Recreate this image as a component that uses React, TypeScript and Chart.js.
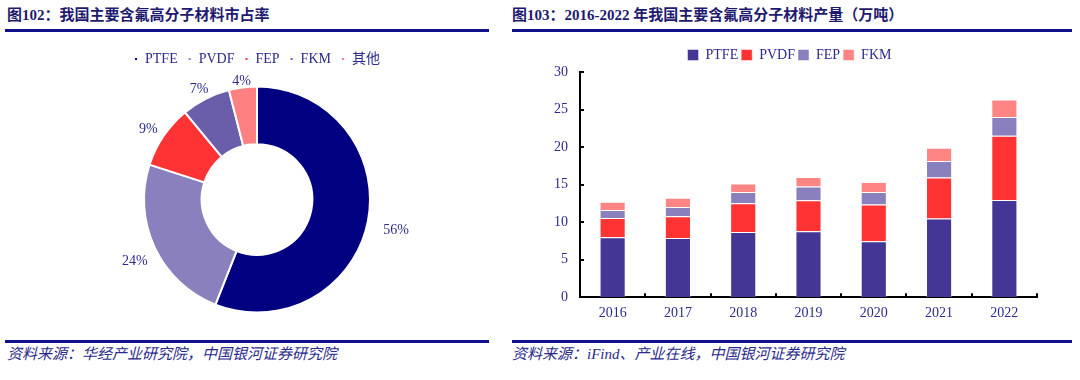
import React, { useEffect, useRef } from "react";
import { Chart, registerables } from "chart.js";
Chart.register(...registerables);

// ---- Data ----
const shareLabels = ["PTFE", "PVDF", "FEP", "FKM", "其他"];
const shareValues = [56, 24, 9, 7, 4];

const years = ["2016", "2017", "2018", "2019", "2020", "2021", "2022"];
const ptfeOutput = [8.0, 7.9, 8.7, 8.8, 7.45, 10.5, 12.95];
const pvdfOutput = [2.55, 2.9, 3.8, 4.1, 4.9, 5.45, 8.55];
const fepOutput = [1.05, 1.2, 1.5, 1.85, 1.65, 2.2, 2.5];
const fkmOutput = [1.1, 1.25, 1.15, 1.25, 1.35, 1.75, 2.35];
const outputSeriesNames = ["PTFE", "PVDF", "FEP", "FKM"];

const yMin = 0;
const yMax = 30;
const yStep = 5;

// ---- Styles ----
const TEXT = "#2B2B8C";
const TITLE = "#1E1A6E";
const LINE = "#10108A";
const SERIF = '"Liberation Serif", "Noto Sans CJK SC", serif';
const shareColors = ["#000080", "#8A80BE", "#FF3333", "#6A5DAA", "#FF8080"];
const barColors = ["#433695", "#FF3333", "#8A80BE", "#FF8585"];

const outsideLabels = {
  id: "outsideLabels",
  afterDatasetsDraw(chart: any) {
    const meta = chart.getDatasetMeta(0);
    const ctx = chart.ctx;
    ctx.save();
    ctx.font = `14px ${SERIF}`;
    ctx.fillStyle = TEXT;
    ctx.textAlign = "center";
    ctx.textBaseline = "middle";
    meta.data.forEach((arc: any, i: number) => {
      const p = arc.getProps(["x", "y", "startAngle", "endAngle", "outerRadius"], true);
      const mid = (p.startAngle + p.endAngle) / 2;
      const text = shareValues[i] + "%";
      const w = ctx.measureText(text).width;
      const h = 14;
      const cx = Math.cos(mid);
      const cy = Math.sin(mid);
      const ext = Math.abs(cx) * w / 2 + Math.abs(cy) * h / 2;
      const r = p.outerRadius + 1 + ext + 14 * Math.abs(cx) * (cx > 0 ? 1 : 0.5);
      ctx.fillText(text, p.x + cx * r, p.y + cy * r + 4);
    });
    ctx.restore();
  },
};

const inwardTicks = {
  id: "inwardTicks",
  afterDraw(chart: any) {
    const ctx = chart.ctx;
    const y = chart.scales.y;
    const x = chart.scales.x;
    ctx.save();
    ctx.strokeStyle = "#000";
    ctx.lineWidth = 2;
    ctx.beginPath();
    y.ticks.forEach((t: any) => {
      if (t.value === yMin) return;
      const py = Math.round(y.getPixelForValue(t.value));
      ctx.moveTo(x.left, py);
      ctx.lineTo(x.left + 4, py);
    });
    const n = years.length;
    for (let i = 1; i <= n; i++) {
      const px = Math.round(x.left + ((x.right - x.left) * i) / n);
      ctx.moveTo(px, y.bottom);
      ctx.lineTo(px, y.bottom - 4);
    }
    ctx.stroke();
    ctx.restore();
  },
};

function ShareChart() {
  const ref = useRef<HTMLCanvasElement>(null);
  useEffect(() => {
    const chart = new Chart(ref.current!, {
      type: "doughnut",
      data: {
        labels: shareLabels,
        datasets: [
          {
            data: shareValues,
            backgroundColor: shareColors,
            borderColor: "#ffffff",
            borderWidth: 2,
            radius: 113,
            cutout: 60,
          } as any,
        ],
      },
      options: {
        animation: false,
        responsive: false,
        maintainAspectRatio: false,
        layout: { padding: { left: 4, right: 0, top: 2, bottom: 7 } },
        plugins: {
          legend: {
            position: "top",
            labels: {
              boxWidth: 4,
              boxHeight: 4,
              padding: 10,
              color: TEXT,
              font: { family: SERIF, size: 14 },
            },
          },
          tooltip: { enabled: false },
        },
      },
      plugins: [outsideLabels],
    });
    return () => chart.destroy();
  }, []);
  return (
    <canvas
      ref={ref}
      width={510}
      height={290}
      style={{ position: "absolute", left: 0, top: 40, width: 510, height: 290 }}
    />
  );
}

function OutputChart() {
  const ref = useRef<HTMLCanvasElement>(null);
  useEffect(() => {
    const series = [ptfeOutput, pvdfOutput, fepOutput, fkmOutput];
    const chart = new Chart(ref.current!, {
      type: "bar",
      data: {
        labels: years,
        datasets: series.map((d, i) => ({
          label: outputSeriesNames[i],
          data: d,
          backgroundColor: barColors[i],
          borderColor: "rgba(255,255,255,0.45)",
          borderWidth: 1,
          barPercentage: 0.4,
          categoryPercentage: 1,
        })),
      },
      options: {
        animation: false,
        responsive: false,
        maintainAspectRatio: false,
        layout: { padding: { left: 22, right: 43, top: 5, bottom: 0 } },
        scales: {
          x: {
            stacked: true,
            grid: { display: false, drawTicks: false },
            border: { display: true, color: "#000", width: 2 },
            ticks: { color: TEXT, font: { family: SERIF, size: 14 }, padding: 8 },
          },
          y: {
            stacked: true,
            min: yMin,
            max: yMax,
            grid: { display: false, drawTicks: false },
            border: { display: true, color: "#000", width: 2 },
            ticks: {
              stepSize: yStep,
              color: TEXT,
              font: { family: SERIF, size: 14 },
              padding: 12,
            },
          },
        },
        plugins: {
          legend: {
            position: "top",
            labels: {
              boxWidth: 11,
              boxHeight: 11,
              padding: 3,
              color: TEXT,
              font: { family: SERIF, size: 14 },
            },
          },
          tooltip: { enabled: false },
        },
      },
      plugins: [inwardTicks],
    });
    return () => chart.destroy();
  }, []);
  return (
    <canvas
      ref={ref}
      width={560}
      height={290}
      style={{ position: "absolute", left: 520, top: 40, width: 560, height: 290 }}
    />
  );
}

const titleStyle: React.CSSProperties = {
  position: "absolute",
  top: 6,
  fontFamily: SERIF,
  fontWeight: "bold",
  fontSize: 15,
  lineHeight: "18px",
  color: TITLE,
  whiteSpace: "nowrap",
};
const footStyle: React.CSSProperties = {
  position: "absolute",
  top: 345,
  fontFamily: SERIF,
  fontStyle: "italic",
  fontSize: 15,
  lineHeight: "18px",
  color: TEXT,
  whiteSpace: "nowrap",
};
const bar = (left: number, width: number, top: number): React.CSSProperties => ({
  position: "absolute",
  left,
  width,
  top,
  height: 3,
  background: LINE,
});

export default function App() {
  return (
    <div
      style={{
        position: "absolute",
        left: 0,
        top: 0,
        width: 1080,
        height: 380,
        background: "#fff",
        overflow: "hidden",
      }}
    >
      <div style={{ ...titleStyle, left: 7 }}>图102：我国主要含氟高分子材料市占率</div>
      <div style={{ ...titleStyle, left: 512 }}>
        图103：2016-2022 年我国主要含氟高分子材料产量（万吨）
      </div>
      <div style={bar(5, 484, 29)} />
      <div style={bar(512, 560, 29)} />
      <ShareChart />
      <OutputChart />
      <div style={bar(5, 484, 340)} />
      <div style={bar(512, 560, 340)} />
      <div style={{ ...footStyle, left: 7 }}>资料来源：华经产业研究院，中国银河证券研究院</div>
      <div style={{ ...footStyle, left: 512 }}>资料来源：iFind、产业在线，中国银河证券研究院</div>
    </div>
  );
}
